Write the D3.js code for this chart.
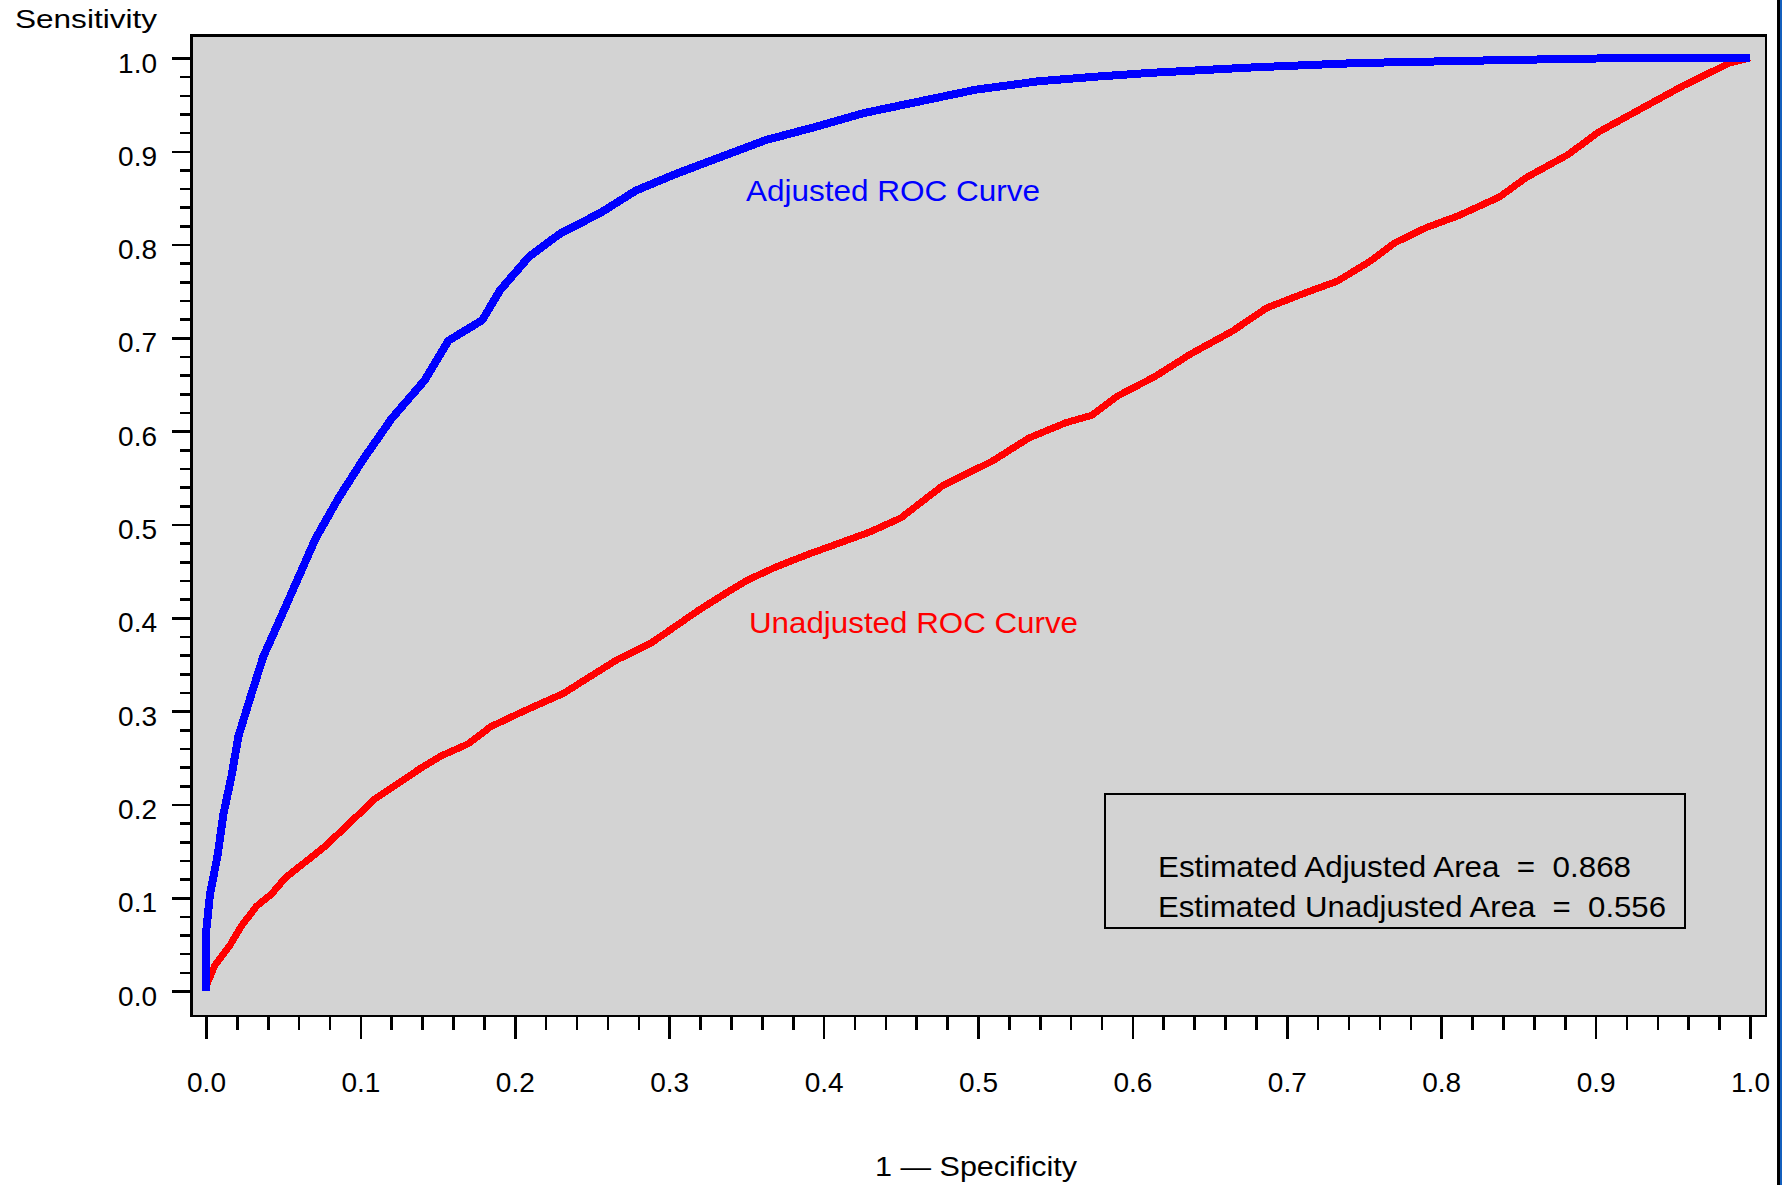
<!DOCTYPE html>
<html>
<head>
<meta charset="utf-8">
<script src="https://cdn.jsdelivr.net/npm/d3@7"></script>
<style>
  html, body { margin: 0; padding: 0; background: #ffffff; }
  svg { display: block; }
  text { font-family: "Liberation Sans", Arial, sans-serif; }
</style>
</head>
<body>
<svg id="chart" width="1782" height="1185"></svg>
<script>
// ROC curve points: false positive rate (1 - specificity) vs. sensitivity
const fprAdjusted = [0, 0, 0.0026, 0.0076, 0.0112, 0.0166, 0.021, 0.029, 0.037, 0.0486,
  0.0598, 0.071, 0.0857, 0.1019, 0.120, 0.1418, 0.157, 0.1789, 0.1904, 0.2092,
  0.2295, 0.2555, 0.2785, 0.3047, 0.3335, 0.3625, 0.3943, 0.426, 0.4608, 0.4984,
  0.5389, 0.5764, 0.611, 0.679, 0.746, 0.848, 0.92, 1.0];
const tprAdjusted = [0, 0.062, 0.104, 0.146, 0.189, 0.231, 0.273, 0.316, 0.358, 0.401,
  0.443, 0.485, 0.528, 0.570, 0.613, 0.655, 0.697, 0.719, 0.751, 0.787,
  0.812, 0.834, 0.858, 0.876, 0.894, 0.912, 0.926, 0.941, 0.953, 0.966,
  0.975, 0.980, 0.984, 0.990, 0.9946, 0.998, 1.0, 1.0];

const fprUnadjusted = [0, 0.0058, 0.0155, 0.0231, 0.0328, 0.0425, 0.0512, 0.0641, 0.0771, 0.0879,
  0.0987, 0.1095, 0.1246, 0.1397, 0.1527, 0.1699, 0.1844, 0.2045, 0.2315, 0.2487,
  0.266, 0.288, 0.3037, 0.3193, 0.3366, 0.3508, 0.3696, 0.39, 0.41, 0.43,
  0.45, 0.477, 0.5093, 0.533, 0.5567, 0.5736, 0.5905, 0.6143, 0.638, 0.665,
  0.687, 0.7124, 0.7328, 0.7532, 0.770, 0.7904, 0.8108, 0.8378, 0.8548, 0.8819,
  0.9022, 0.9293, 0.9564, 0.9868, 1.0];
const tprUnadjusted = [0.005, 0.0277, 0.049, 0.070, 0.091, 0.104, 0.121, 0.138, 0.155, 0.172,
  0.189, 0.206, 0.2226, 0.2395, 0.2523, 0.265, 0.2833, 0.299, 0.319, 0.3369,
  0.3548, 0.3727, 0.3905, 0.4084, 0.4263, 0.4405, 0.4548, 0.468, 0.48, 0.492,
  0.507, 0.5415, 0.568, 0.5927, 0.609, 0.617, 0.6378, 0.6583, 0.683, 0.7075,
  0.7322, 0.7485, 0.7609, 0.7813, 0.8019, 0.8183, 0.8307, 0.8511, 0.8716, 0.8962,
  0.9209, 0.9455, 0.970, 0.9946, 1.0];

const majorTicks = [0, 0.1, 0.2, 0.3, 0.4, 0.5, 0.6, 0.7, 0.8, 0.9, 1.0];
const minorTicks = d3.range(0, 51).map(i => i / 50).filter(v => Math.abs(v * 10 - Math.round(v * 10)) > 1e-6);

const areaLabels = ["Estimated Adjusted Area  =  0.868", "Estimated Unadjusted Area  =  0.556"];

const svg = d3.select("#chart");

// plot frame and scales
const frame = { left: 190, top: 34, right: 1767, bottom: 1017 };
const x = d3.scaleLinear().domain([0, 1]).range([206, 1750]);
const y = d3.scaleLinear().domain([0, 1]).range([991, 58]);

svg.append("rect")
  .attr("x", frame.left + 1.25).attr("y", frame.top + 1.25)
  .attr("width", frame.right - frame.left - 2.5).attr("height", frame.bottom - frame.top - 2.5)
  .attr("fill", "#d3d3d3");

// window edge on the right
svg.append("rect").attr("x", 1777).attr("y", 0).attr("width", 3).attr("height", 1185).attr("fill", "#000");
svg.append("rect").attr("x", 1780).attr("y", 0).attr("width", 2).attr("height", 1185).attr("fill", "#1560bd");

// axes
const tickFont = 28;
const yAxis = svg.append("g")
  .attr("transform", `translate(${frame.left},0)`)
  .call(d3.axisLeft(y).tickValues(majorTicks).tickSize(18).tickPadding(15).tickFormat(d3.format(".1f")));
const yMinor = svg.append("g")
  .attr("transform", `translate(${frame.left},0)`)
  .call(d3.axisLeft(y).tickValues(minorTicks).tickSize(10).tickFormat(""));

const xAxis = svg.append("g")
  .attr("transform", `translate(0,${frame.bottom - 1})`)
  .call(d3.axisBottom(x).tickValues(majorTicks).tickSize(23).tickPadding(33).tickFormat(d3.format(".1f")));
const xMinor = svg.append("g")
  .attr("transform", `translate(0,${frame.bottom - 1})`)
  .call(d3.axisBottom(x).tickValues(minorTicks).tickSize(14).tickFormat(""));

[yAxis, yMinor, xAxis, xMinor].forEach(g => {
  g.select(".domain").remove();
  g.selectAll(".tick line").attr("stroke", "#000").attr("stroke-width", 2.6).attr("shape-rendering", "crispEdges");
  g.selectAll(".tick text").attr("fill", "#000").attr("font-size", tickFont)
    .attr("font-family", "'Liberation Sans', Arial, sans-serif");
});
yAxis.selectAll(".tick text").attr("dy", "0.5em");

// curves
const line = d3.line().x(d => x(d[0])).y(d => y(d[1]));
const adjusted = fprAdjusted.map((v, i) => [v, tprAdjusted[i]]);
const unadjusted = fprUnadjusted.map((v, i) => [v, tprUnadjusted[i]]);

svg.append("path").datum(unadjusted)
  .attr("d", line).attr("fill", "none").attr("stroke", "#ff0000")
  .attr("stroke-width", 7).attr("stroke-linejoin", "round").attr("shape-rendering", "crispEdges");
svg.append("path").datum(adjusted)
  .attr("d", line).attr("fill", "none").attr("stroke", "#0000ff")
  .attr("stroke-width", 8).attr("stroke-linejoin", "round").attr("shape-rendering", "crispEdges");

// frame border drawn over the curves' ends
svg.append("rect")
  .attr("x", frame.left + 1.25).attr("y", frame.top + 1.25)
  .attr("width", frame.right - frame.left - 2.5).attr("height", frame.bottom - frame.top - 2.5)
  .attr("fill", "none").attr("stroke", "#000").attr("stroke-width", 2.5)
  .attr("shape-rendering", "crispEdges");

// curve labels
svg.append("text").attr("x", 746).attr("y", 201)
  .attr("font-size", 30).attr("fill", "#0000ff")
  .attr("textLength", 294).attr("lengthAdjust", "spacingAndGlyphs")
  .text("Adjusted ROC Curve");
svg.append("text").attr("x", 749).attr("y", 633)
  .attr("font-size", 30).attr("fill", "#ff0000")
  .attr("textLength", 329).attr("lengthAdjust", "spacingAndGlyphs")
  .text("Unadjusted ROC Curve");

// area box
svg.append("rect")
  .attr("x", 1105).attr("y", 794).attr("width", 580).attr("height", 134)
  .attr("fill", "none").attr("stroke", "#000").attr("stroke-width", 2)
  .attr("shape-rendering", "crispEdges");
const areaWidths = [473, 508];
svg.selectAll("text.area").data(areaLabels).enter().append("text")
  .attr("class", "area")
  .attr("x", 1158).attr("y", (d, i) => 877 + i * 40)
  .attr("font-size", 30).attr("fill", "#000")
  .attr("textLength", (d, i) => areaWidths[i]).attr("lengthAdjust", "spacingAndGlyphs")
  .style("white-space", "pre")
  .text(d => d);

// axis titles
svg.append("text").attr("x", 15).attr("y", 28)
  .attr("font-size", 25).attr("fill", "#000")
  .attr("textLength", 142).attr("lengthAdjust", "spacingAndGlyphs")
  .text("Sensitivity");
svg.append("text").attr("x", 875).attr("y", 1176)
  .attr("font-size", 27).attr("fill", "#000")
  .attr("textLength", 202).attr("lengthAdjust", "spacingAndGlyphs")
  .style("white-space", "pre")
  .text("1 \u2014 Specificity");
</script>
</body>
</html>
